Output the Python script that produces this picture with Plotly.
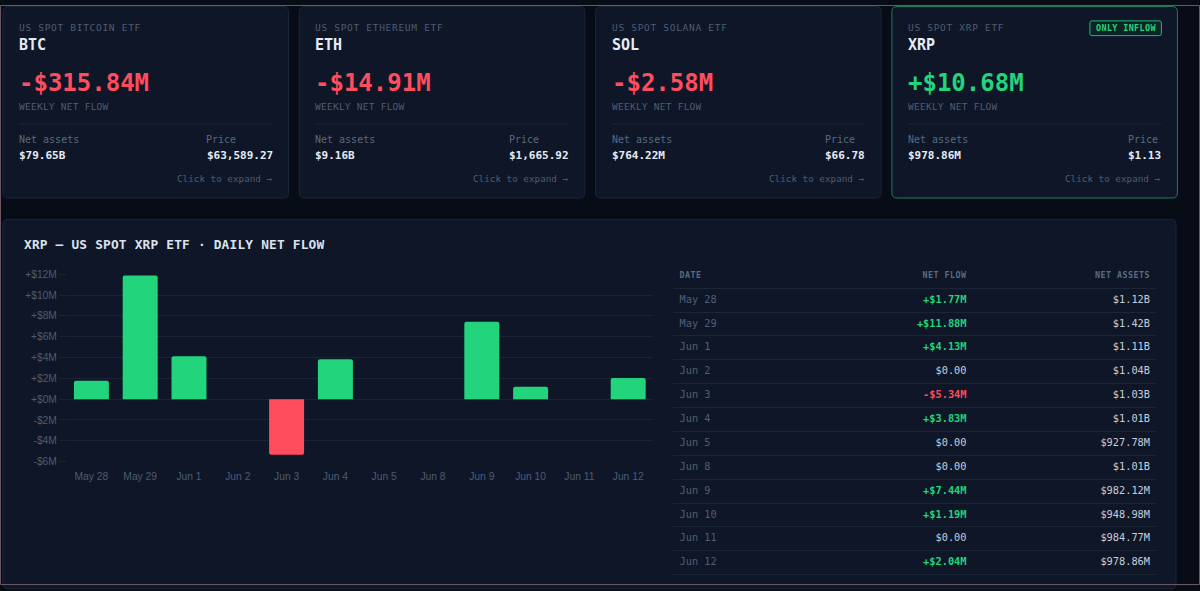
import plotly.graph_objects as go

W, H = 1200, 591

# ---------------- data ----------------
card_tags = ["US SPOT BITCOIN ETF", "US SPOT ETHEREUM ETF", "US SPOT SOLANA ETF", "US SPOT XRP ETF"]
card_symbols = ["BTC", "ETH", "SOL", "XRP"]
card_flows = [-315.84, -14.91, -2.58, 10.68]
card_assets = ["$79.65B", "$9.16B", "$764.22M", "$978.86M"]
card_prices = ["$63,589.27", "$1,665.92", "$66.78", "$1.13"]

dates = ["May 28", "May 29", "Jun 1", "Jun 2", "Jun 3", "Jun 4",
         "Jun 5", "Jun 8", "Jun 9", "Jun 10", "Jun 11", "Jun 12"]
net_flow_m = [1.77, 11.88, 4.13, 0.00, -5.34, 3.83, 0.00, 0.00, 7.44, 1.19, 0.00, 2.04]
net_assets = ["$1.12B", "$1.42B", "$1.11B", "$1.04B", "$1.03B", "$1.01B",
              "$927.78M", "$1.01B", "$982.12M", "$948.98M", "$984.77M", "$978.86M"]
y_tick_vals = [-6, -4, -2, 0, 2, 4, 6, 8, 10, 12]
table_headers = ["DATE", "NET FLOW", "NET ASSETS"]

# ---------------- style ----------------
MONO = "DejaVu Sans Mono, Liberation Mono, monospace"
MONO_ADV = 0.602  # advance width of DejaVu Sans Mono per em
SANS = "Liberation Sans, Arial, sans-serif"
PAGE_BG = "#070c16"
CARD_BG = "#0e1628"
CARD_BORDER = "#1b2638"
GREEN = "#22d47c"
RED = "#ff4d5e"
LIGHT = "#e6ecf4"
GRID = "#1a2434"

# vertical calibration of the photographed page (target pixel -> figure pixel)
SY, OY = 0.979, 5.46


def px(x):
    return x / W


def py(y):
    return 1 - ((y - OY) / SY) / H


def spaced(s, ls):
    return f"<span style='letter-spacing:{ls}px'>{s}</span>"


def rounded_rect(x0, y0, x1, y1, r):
    ry = r / SY
    return (
        f"M {px(x0 + r)},{py(y0)} L {px(x1 - r)},{py(y0)} "
        f"Q {px(x1)},{py(y0)} {px(x1)},{py(y0 + ry)} L {px(x1)},{py(y1 - ry)} "
        f"Q {px(x1)},{py(y1)} {px(x1 - r)},{py(y1)} L {px(x0 + r)},{py(y1)} "
        f"Q {px(x0)},{py(y1)} {px(x0)},{py(y1 - ry)} L {px(x0)},{py(y0 + ry)} "
        f"Q {px(x0)},{py(y0)} {px(x0 + r)},{py(y0)} Z"
    )


def fmt_flow(v):
    if v == 0:
        return "$0.00"
    return f"{'+' if v > 0 else '-'}${abs(v):.2f}M"


def flow_color(v):
    if v > 0:
        return GREEN
    if v < 0:
        return RED
    return "#c3cdd9"


shapes = []
annotations = []


def text(x, y, s, size, color, anchor="left", weight="normal", family=MONO):
    annotations.append(dict(
        x=px(x), y=py(y), xref="paper", yref="paper", text=s, showarrow=False,
        xanchor=anchor, yanchor="middle", align=anchor, borderpad=0, borderwidth=0,
        font=dict(family=family, size=size, color=color, weight=weight),
    ))


# ---------------- chart panel ----------------
shapes.append(dict(type="path", xref="paper", yref="paper", layer="below",
                   path=rounded_rect(3, 219.3, 1176, 588, 5),
                   fillcolor=CARD_BG, line=dict(color=CARD_BORDER, width=1)))
text(23.5, 244.3, spaced("XRP \u2014 US SPOT XRP ETF \u00b7 DAILY NET FLOW", 0.2),
     12.8, "#dbe3ee", weight="bold")

# ---------------- cards ----------------
card_left0, card_pitch, card_w = 3, 296.3, 285.5
card_top, card_bottom = 7, 198
VAL_SIZE = 11
for i in range(len(card_symbols)):
    x0 = card_left0 + i * card_pitch
    x1 = x0 + card_w
    only_inflow = card_flows[i] > 0 and all(f <= 0 for j, f in enumerate(card_flows) if j != i)
    shapes.append(dict(type="path", xref="paper", yref="paper", layer="below",
                       path=rounded_rect(x0, card_top, x1, card_bottom, 5),
                       fillcolor=CARD_BG,
                       line=dict(color="#1f7d57" if only_inflow else CARD_BORDER, width=1)))
    lx, rx = x0 + 16, x1 - 16
    text(lx, 27.6, spaced(card_tags[i], 0.7), 9.5, "#4e5d72")
    text(lx, 45.5, card_symbols[i], 15, LIGHT, weight="bold")
    v = card_flows[i]
    text(lx, 82.8, fmt_flow(v), 24, GREEN if v > 0 else RED, weight="bold")
    text(lx, 106.7, spaced("WEEKLY NET FLOW", 0.25), 9.5, "#4e5d72")
    shapes.append(dict(type="line", xref="paper", yref="paper", layer="below",
                       x0=px(lx), x1=px(rx), y0=py(124.3), y1=py(124.3),
                       line=dict(color="#1d293a", width=1)))
    text(lx, 140, "Net assets", 10, "#5b6a7f")
    price_left = rx - len(card_prices[i]) * MONO_ADV * VAL_SIZE
    text(price_left, 140, "Price", 10, "#5b6a7f")
    text(lx, 155.3, card_assets[i], VAL_SIZE, LIGHT, weight="bold")
    text(rx, 155.3, card_prices[i], VAL_SIZE, LIGHT, weight="bold", anchor="right")
    text(rx, 179, "Click to expand \u2192", 9.3, "#4e5d72", anchor="right")
    if only_inflow:
        shapes.append(dict(type="path", xref="paper", yref="paper", layer="below",
                           path=rounded_rect(rx - 71.5, 21.3, rx, 36, 2),
                           fillcolor="#0d2424", line=dict(color="#22b875", width=1)))
        text(rx - 35.75, 28.8, spaced("ONLY INFLOW", 0.4), 8.4, GREEN, anchor="center", weight="bold")

# screenshot frame
shapes.append(dict(type="rect", xref="paper", yref="paper", layer="above",
                   x0=0.0004, x1=0.9996, y0=0.0008, y1=0.9992,
                   line=dict(color="#6e5a64", width=1), fillcolor="rgba(0,0,0,0)"))

fig = go.Figure()

fig.add_trace(go.Bar(
    x=dates, y=net_flow_m,
    marker=dict(color=[GREEN if v >= 0 else RED for v in net_flow_m],
                line=dict(width=0), cornerradius=2),
    xaxis="x", yaxis="y", hoverinfo="skip", showlegend=False,
))

# ---------------- table (text traces on hidden axes) ----------------
col_date_x, col_flow_x, col_assets_x = 679.5, 966.5, 1150
rows = list(range(1, len(dates) + 1))
fig.add_trace(go.Scatter(
    x=[col_date_x, col_flow_x, col_assets_x], y=[0, 0, 0], mode="text",
    text=[spaced(h, 0.5) for h in table_headers],
    textposition=["middle right", "middle left", "middle left"],
    textfont=dict(family=MONO, size=8.3, color="#5d6c82", weight="bold"),
    xaxis="x2", yaxis="y2", hoverinfo="skip", showlegend=False,
))
fig.add_trace(go.Scatter(
    x=[col_date_x] * len(dates), y=rows, mode="text", text=dates,
    textposition="middle right",
    textfont=dict(family=MONO, size=10.3, color="#4f5e73"),
    xaxis="x2", yaxis="y2", hoverinfo="skip", showlegend=False,
))
fig.add_trace(go.Scatter(
    x=[col_flow_x] * len(dates), y=rows, mode="text",
    text=[fmt_flow(v) for v in net_flow_m], textposition="middle left",
    textfont=dict(family=MONO, size=10.3, color=[flow_color(v) for v in net_flow_m],
                  weight=["bold" if v != 0 else "normal" for v in net_flow_m]),
    xaxis="x2", yaxis="y2", hoverinfo="skip", showlegend=False,
))
fig.add_trace(go.Scatter(
    x=[col_assets_x] * len(dates), y=rows, mode="text", text=net_assets,
    textposition="middle left",
    textfont=dict(family=MONO, size=10.3, color="#c5cfdb"),
    xaxis="x2", yaxis="y2", hoverinfo="skip", showlegend=False,
))

row_h = 23.82
hdr_y = 276.0
t_top = hdr_y - 0.5 * row_h
t_bot = hdr_y + 12.7 * row_h

fig.update_layout(
    width=W, height=H,
    margin=dict(l=0, r=0, t=0, b=0),
    paper_bgcolor=PAGE_BG, plot_bgcolor="rgba(0,0,0,0)",
    bargap=0.283,
    shapes=shapes, annotations=annotations,
    showlegend=False,
    xaxis=dict(
        domain=[px(67), px(652.6)], type="category",
        showgrid=False, zeroline=False, showline=False,
        ticks="", ticklabelstandoff=7,
        tickfont=dict(family=SANS, size=10.3, color="#4d5c71"),
        fixedrange=True,
    ),
    yaxis=dict(
        domain=[py(461), py(274)], range=[-6, 12],
        tickvals=y_tick_vals,
        ticktext=[f"{'+' if v >= 0 else '-'}${abs(v)}M" for v in y_tick_vals],
        showgrid=True, gridcolor=GRID, gridwidth=1,
        zeroline=True, zerolinecolor=GRID, zerolinewidth=1,
        ticks="outside", ticklen=7, tickcolor=GRID,
        ticklabelstandoff=0,
        tickfont=dict(family=SANS, size=10.3, color="#4d5c71"),
        showline=False, fixedrange=True,
    ),
    xaxis2=dict(
        domain=[px(672.5), px(1155.5)], range=[672.5, 1155.5],
        visible=False, fixedrange=True,
    ),
    yaxis2=dict(
        domain=[py(t_bot), py(t_top)], range=[12.7, -0.5],
        anchor="x2",
        tickvals=[r + 0.5 for r in range(0, len(dates) + 1)],
        showgrid=True, gridcolor="#1a2535", gridwidth=1,
        showticklabels=False, ticks="", zeroline=False, showline=False,
        fixedrange=True,
    ),
)

page_css = f"margin:0;padding:0;overflow:hidden;width:{W}px;height:{H}px;background:{PAGE_BG};"
fig.write_html(
    "out.html",
    config=dict(displayModeBar=False),
    post_script=(
        f"document.documentElement.style.cssText='{page_css}';"
        f"document.body.style.cssText='{page_css}';"
        "var gd=document.getElementById('{plot_id}');"
        "gd.style.display='block';"
        f"gd.parentElement.style.cssText='{page_css}';"
        "window.scrollTo(0,0);"
    ),
)
